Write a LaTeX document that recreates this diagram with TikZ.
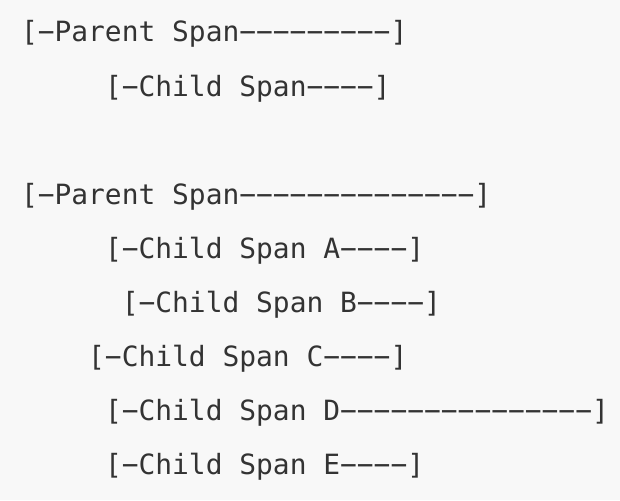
\documentclass[tikz,border=0pt]{standalone}
\usepackage{fontspec}
\newfontfamily\spanmono[Ligatures=TeXOff]{DejaVu Sans Mono}
\definecolor{bgc}{HTML}{F8F8F8}
\definecolor{txc}{HTML}{333333}
\begin{document}
\begin{tikzpicture}[x=1pt,y=-1pt,
  spanline/.style={anchor=base west,inner sep=0pt,outer sep=0pt,text=txc,
    font=\spanmono\fontsize{27.9}{54}\selectfont}]
\fill[bgc] (0,0) rectangle (620,500);
\useasboundingbox (0,0) rectangle (620,500);
\node[spanline] (p1) at (21,42) {[−Parent Span−−−−−−−−−]};
\node[spanline] (c1) at (21+5*16.8,96) {[−Child Span−−−−]};
\node[spanline] (p2) at (21,204) {[−Parent Span−−−−−−−−−−−−−−]};
\node[spanline] (ca) at (21+5*16.8,258) {[−Child Span A−−−−]};
\node[spanline] (cb) at (21+6*16.8,312) {[−Child Span B−−−−]};
\node[spanline] (cc) at (21+4*16.8,366) {[−Child Span C−−−−]};
\node[spanline] (cd) at (21+5*16.8,420) {[−Child Span D−−−−−−−−−−−−−−−]};
\node[spanline] (ce) at (21+5*16.8,474) {[−Child Span E−−−−]};
\end{tikzpicture}
\end{document}
